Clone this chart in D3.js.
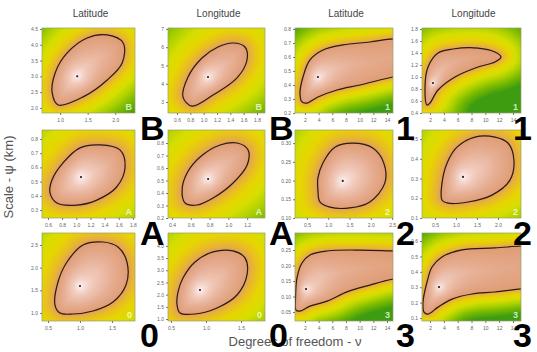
<!DOCTYPE html>
<html>
<head>
<meta charset="utf-8">
<script src="https://cdn.jsdelivr.net/npm/d3@7.9.0/dist/d3.min.js"></script>
<style>
  body { margin: 0; background: #fff; }
  svg { display: block; font-family: "Liberation Sans", Arial, sans-serif; }
</style>
</head>
<body>
<svg id="chart" width="537" height="352"></svg>
<script>
// ---- data (panel order: row by row, left to right) ----
const columnTitles = ["Latitude", "Longitude", "Latitude", "Longitude"];
const panelCodes = ["B", "B", "1", "1", "A", "A", "2", "2", "0", "0", "3", "3"];

const xDomains = [
  [0.67, 2.36], [0.465, 1.92], [0.54, 14.88], [0.84, 15.16],
  [0.515, 1.83], [0.357, 1.39], [0.22, 2.52], [0.19, 2.55],
  [0.406, 1.86], [0.457, 1.843], [0.54, 14.88], [0.84, 15.16]
];
const yDomains = [
  [1.84, 4.53], [2.4, 7.05], [0.2, 0.807], [0.4, 1.817],
  [0.244, 0.863], [0.2, 0.904], [0.10, 0.335], [0.10, 0.546],
  [0.823, 2.765], [0.918, 4.53], [0.021, 0.305], [0.081, 0.652]
];
const xTicks = [
  [1.0, 1.5, 2.0], [0.6, 0.8, 1.0, 1.2, 1.4, 1.6, 1.8], [2, 4, 6, 8, 10, 12, 14], [2, 4, 6, 8, 10, 12, 14],
  [0.6, 0.8, 1.0, 1.2, 1.4, 1.6, 1.8], [0.4, 0.6, 0.8, 1.0, 1.2], [0.5, 1.0, 1.5, 2.0, 2.5], [0.5, 1.0, 1.5, 2.0],
  [0.5, 1.0, 1.5], [0.5, 1.0, 1.5], [2, 4, 6, 8, 10, 12, 14], [2, 4, 6, 8, 10, 12, 14]
];
const yTicks = [
  [2.0, 2.5, 3.0, 3.5, 4.0, 4.5], [3, 4, 5, 6, 7], [0.2, 0.3, 0.4, 0.5, 0.6, 0.7, 0.8], [0.4, 0.6, 0.8, 1.0, 1.2, 1.4, 1.6, 1.8],
  [0.3, 0.4, 0.5, 0.6, 0.7, 0.8], [0.2, 0.3, 0.4, 0.5, 0.6, 0.7, 0.8], [0.10, 0.15, 0.20, 0.25, 0.30], [0.1, 0.2, 0.3, 0.4, 0.5],
  [1.0, 1.5, 2.0, 2.5], [1.0, 1.5, 2.0, 2.5, 3.0, 3.5, 4.0], [0.05, 0.10, 0.15, 0.20, 0.25], [0.1, 0.2, 0.3, 0.4, 0.5, 0.6]
];
const xFormats = [".1f", ".1f", "d", "d", ".1f", ".1f", ".1f", ".1f", ".1f", ".1f", "d", "d"];
const yFormats = [".1f", "d", ".1f", ".1f", ".1f", ".1f", ".2f", ".1f", ".1f", ".1f", ".2f", ".1f"];

// maximum likelihood estimate (nu, psi) for each panel
const mlePoints = [
  [1.31, 3.0], [1.065, 4.37], [3.9, 0.457], [2.43, 0.9],
  [1.066, 0.532], [0.784, 0.512], [1.34, 0.199], [1.167, 0.308],
  [1.0, 1.595], [0.914, 2.19], [2.15, 0.124], [3.3, 0.301]
];

// confidence contour for each panel, (nu, psi)
const contours = [
  [[0.855, 2.475], [0.964, 2.095], [1.418, 2.35], [1.855, 2.886], [2.127, 3.424], [2.145, 4.057], [1.855, 4.31], [1.49, 4.215], [1.127, 3.74], [0.909, 3.108]],
  [[0.69, 3.27], [0.825, 2.78], [1.14, 3.38], [1.5, 4.32], [1.65, 5.30], [1.62, 6.01], [1.44, 6.23], [1.215, 6.01], [0.975, 5.41], [0.765, 4.37]],
  [[14.88, 0.729], [11.5, 0.707], [7.56, 0.686], [4.64, 0.65], [2.73, 0.579], [1.71, 0.457], [1.27, 0.343], [1.56, 0.279], [2.29, 0.271], [3.9, 0.314], [6.69, 0.364], [10.05, 0.40], [14.88, 0.457], [17, 0.47], [17, 0.72]],
  [[1.57, 0.533], [1.28, 0.833], [1.71, 1.167], [3.16, 1.4], [5.32, 1.467], [8.94, 1.483], [11.39, 1.417], [12.26, 1.333], [11.39, 1.25], [8.94, 1.167], [5.61, 1.0], [3.16, 0.783], [2.0, 0.567]],
  [[0.628, 0.42], [0.727, 0.349], [1.01, 0.335], [1.29, 0.37], [1.57, 0.462], [1.69, 0.603], [1.617, 0.723], [1.334, 0.758], [1.052, 0.737], [0.812, 0.631], [0.656, 0.511]],
  [[0.507, 0.424], [0.539, 0.32], [0.667, 0.304], [0.837, 0.36], [1.05, 0.48], [1.2, 0.624], [1.21, 0.744], [1.093, 0.8], [0.912, 0.784], [0.699, 0.688], [0.56, 0.56]],
  [[0.758, 0.175], [0.804, 0.143], [1.039, 0.129], [1.507, 0.127], [1.975, 0.143], [2.327, 0.193], [2.303, 0.247], [2.046, 0.287], [1.577, 0.30], [1.156, 0.289], [0.875, 0.247], [0.758, 0.207]],
  [[0.667, 0.191], [0.81, 0.175], [1.286, 0.181], [1.857, 0.216], [2.286, 0.292], [2.381, 0.394], [2.238, 0.48], [1.929, 0.51], [1.452, 0.51], [1.024, 0.459], [0.786, 0.378], [0.667, 0.277]],
  [[0.609, 1.175], [0.688, 0.998], [0.89, 0.977], [1.203, 1.043], [1.516, 1.242], [1.719, 1.617], [1.734, 2.125], [1.594, 2.456], [1.359, 2.566], [1.047, 2.5], [0.797, 2.125], [0.656, 1.683]],
  [[0.586, 1.575], [0.629, 1.246], [0.843, 1.205], [1.157, 1.452], [1.443, 1.986], [1.586, 2.808], [1.557, 3.507], [1.386, 3.795], [1.1, 3.753], [0.843, 3.342], [0.671, 2.685], [0.6, 2.109]],
  [[14.88, 0.247], [10.05, 0.25], [5.22, 0.247], [2.73, 0.234], [1.56, 0.208], [0.83, 0.16], [0.62, 0.095], [0.68, 0.056], [1.27, 0.053], [2.73, 0.069], [5.22, 0.085], [8.15, 0.115], [11.52, 0.137], [14.88, 0.156], [17, 0.16], [17, 0.246]],
  [[15.3, 0.568], [11.39, 0.555], [6.62, 0.542], [3.73, 0.497], [2.29, 0.431], [1.57, 0.334], [0.99, 0.204], [1.13, 0.139], [1.71, 0.126], [3.16, 0.171], [5.18, 0.223], [8.07, 0.256], [11.39, 0.269], [15.3, 0.29], [17, 0.295], [17, 0.57]]
];

// ---- layout & style ----
const colLeft = [42, 168, 295, 422];
const colRight = [135, 265, 393, 521];
const rowTop = [28, 130, 233];
const rowBottom = [113, 218, 321];
const bigDx = [5, 4, 3, -8];
// how quickly each surface fades to green away from its contour
const shadeFalloff = [1.35, 1.05, 1.9, 1.7, 0.9, 0.9, 0.9, 0.95, 0.9, 0.9, 1.9, 2.0];
const belowWeight = 1.35;

// surface shading: inside by relative position (0 = estimate, 1 = contour),
// outside by distance from the contour
const insideColor = d3.scaleLinear()
  .domain([0, 0.12, 0.35, 0.65, 1])
  .range(["#fff6f6", "#f9e2de", "#f0c8b8", "#e7b096", "#df9c74"])
  .clamp(true);
const outsideColor = d3.scaleLinear()
  .domain([0, 3, 8, 15, 25, 36, 50, 68])
  .range(["#df9c5c", "#e6ae40", "#e8c21c", "#e6d600", "#d6de00", "#b0d200", "#78ba00", "#3e9c10"])
  .clamp(true);

const svg = d3.select("#chart");
const defs = svg.append("defs");
const loop = d3.line().curve(d3.curveCatmullRomClosed.alpha(0.5));

contours.forEach((contour, i) => {
  const r = Math.floor(i / 4), c = i % 4;
  const x = d3.scaleLinear().domain(xDomains[i]).range([colLeft[c], colRight[c]]);
  const y = d3.scaleLinear().domain(yDomains[i]).range([rowBottom[r], rowTop[r]]);
  const w = colRight[c] - colLeft[c], h = rowBottom[r] - rowTop[r];

  defs.append("clipPath").attr("id", `clip${i}`)
    .append("rect").attr("x", colLeft[c]).attr("y", rowTop[r]).attr("width", w).attr("height", h);

  const panel = svg.append("g");
  const inner = panel.append("g").attr("clip-path", `url(#clip${i})`);
  const img = inner.append("image")
    .attr("x", colLeft[c]).attr("y", rowTop[r]).attr("width", w).attr("height", h)
    .attr("preserveAspectRatio", "none");

  const cx = x(mlePoints[i][0]), cy = y(mlePoints[i][1]);
  const line = inner.append("path")
    .attr("d", loop(contour.map(d => [x(d[0]), y(d[1])])))
    .attr("fill", "none")
    .attr("stroke", "#2b1b10")
    .attr("stroke-width", 1.2);

  // sample the drawn contour to shade the surface around it
  const node = line.node();
  const len = node.getTotalLength();
  const samples = d3.range(0, len, 1.5).map(l => {
    const p = node.getPointAtLength(l);
    return [p.x, p.y];
  });
  const canvas = document.createElement("canvas");
  canvas.width = w; canvas.height = h;
  const ctx = canvas.getContext("2d");
  const image = ctx.createImageData(w, h);
  for (let py = 0; py < h; py++) {
    for (let px = 0; px < w; px++) {
      const gx = colLeft[c] + px + 0.5, gy = rowTop[r] + py + 0.5;
      const inside = d3.polygonContains(samples, [gx, gy]);
      let dmin = Infinity;
      for (const s of samples) {
        const dx = s[0] - gx;
        let dy = s[1] - gy;
        if (!inside && dy < 0) dy *= belowWeight;
        const dd = dx * dx + dy * dy;
        if (dd < dmin) dmin = dd;
      }
      dmin = Math.sqrt(dmin);
      let col;
      if (inside) {
        const dc = Math.hypot(gx - cx, gy - cy);
        col = d3.rgb(insideColor(dc / (dc + dmin)));
      } else {
        col = d3.rgb(outsideColor(dmin * shadeFalloff[i]));
      }
      const k = (py * w + px) * 4;
      image.data[k] = col.r; image.data[k + 1] = col.g; image.data[k + 2] = col.b; image.data[k + 3] = 255;
    }
  }
  ctx.putImageData(image, 0, 0);
  img.attr("href", canvas.toDataURL());

  inner.append("circle")
    .attr("cx", cx).attr("cy", cy).attr("r", 1.1)
    .attr("fill", "#222");

  inner.append("text")
    .attr("x", colRight[c] - 3).attr("y", rowBottom[r] - 3)
    .attr("text-anchor", "end")
    .attr("font-size", 9).attr("font-weight", "bold")
    .attr("fill", "rgba(255,255,255,0.75)")
    .text(panelCodes[i]);

  panel.append("rect")
    .attr("x", colLeft[c]).attr("y", rowTop[r]).attr("width", w).attr("height", h)
    .attr("fill", "none").attr("stroke", "#9a9a70").attr("stroke-width", 0.7);

  const xAxis = panel.append("g")
    .attr("transform", `translate(0,${rowBottom[r]})`)
    .call(d3.axisBottom(x).tickValues(xTicks[i]).tickSize(2).tickPadding(3).tickFormat(d3.format(xFormats[i])));
  const yAxis = panel.append("g")
    .attr("transform", `translate(${colLeft[c]},0)`)
    .call(d3.axisLeft(y).tickValues(yTicks[i]).tickSize(2).tickPadding(2).tickFormat(d3.format(yFormats[i])));
  [xAxis, yAxis].forEach(a => {
    a.select(".domain").remove();
    a.selectAll("line").attr("stroke", "#777");
    a.selectAll("text").attr("font-size", 5).attr("fill", "#666").attr("font-family", "Liberation Sans, Arial, sans-serif");
  });
});

// column titles
columnTitles.forEach((t, c) => {
  svg.append("text")
    .attr("x", (colLeft[c] + colRight[c]) / 2 + 2).attr("y", 17)
    .attr("text-anchor", "middle")
    .attr("font-size", 10).attr("fill", "#444")
    .text(t);
});

// axis titles
svg.append("text")
  .attr("transform", "translate(13,177) rotate(-90)")
  .attr("text-anchor", "middle")
  .attr("font-size", 13).attr("fill", "#555")
  .text("Scale - ψ (km)");

svg.append("text")
  .attr("x", 295).attr("y", 346)
  .attr("text-anchor", "middle")
  .attr("font-size", 13).attr("fill", "#555")
  .text("Degrees of freedom - ν");

// big panel codes
panelCodes.forEach((code, i) => {
  const r = Math.floor(i / 4), c = i % 4;
  svg.append("text")
    .attr("x", colRight[c] + bigDx[c]).attr("y", rowBottom[r] + (r === 2 ? 26 : 27))
    .attr("font-size", 34).attr("font-weight", "bold").attr("fill", "#000")
    .text(code);
});
</script>
</body>
</html>
